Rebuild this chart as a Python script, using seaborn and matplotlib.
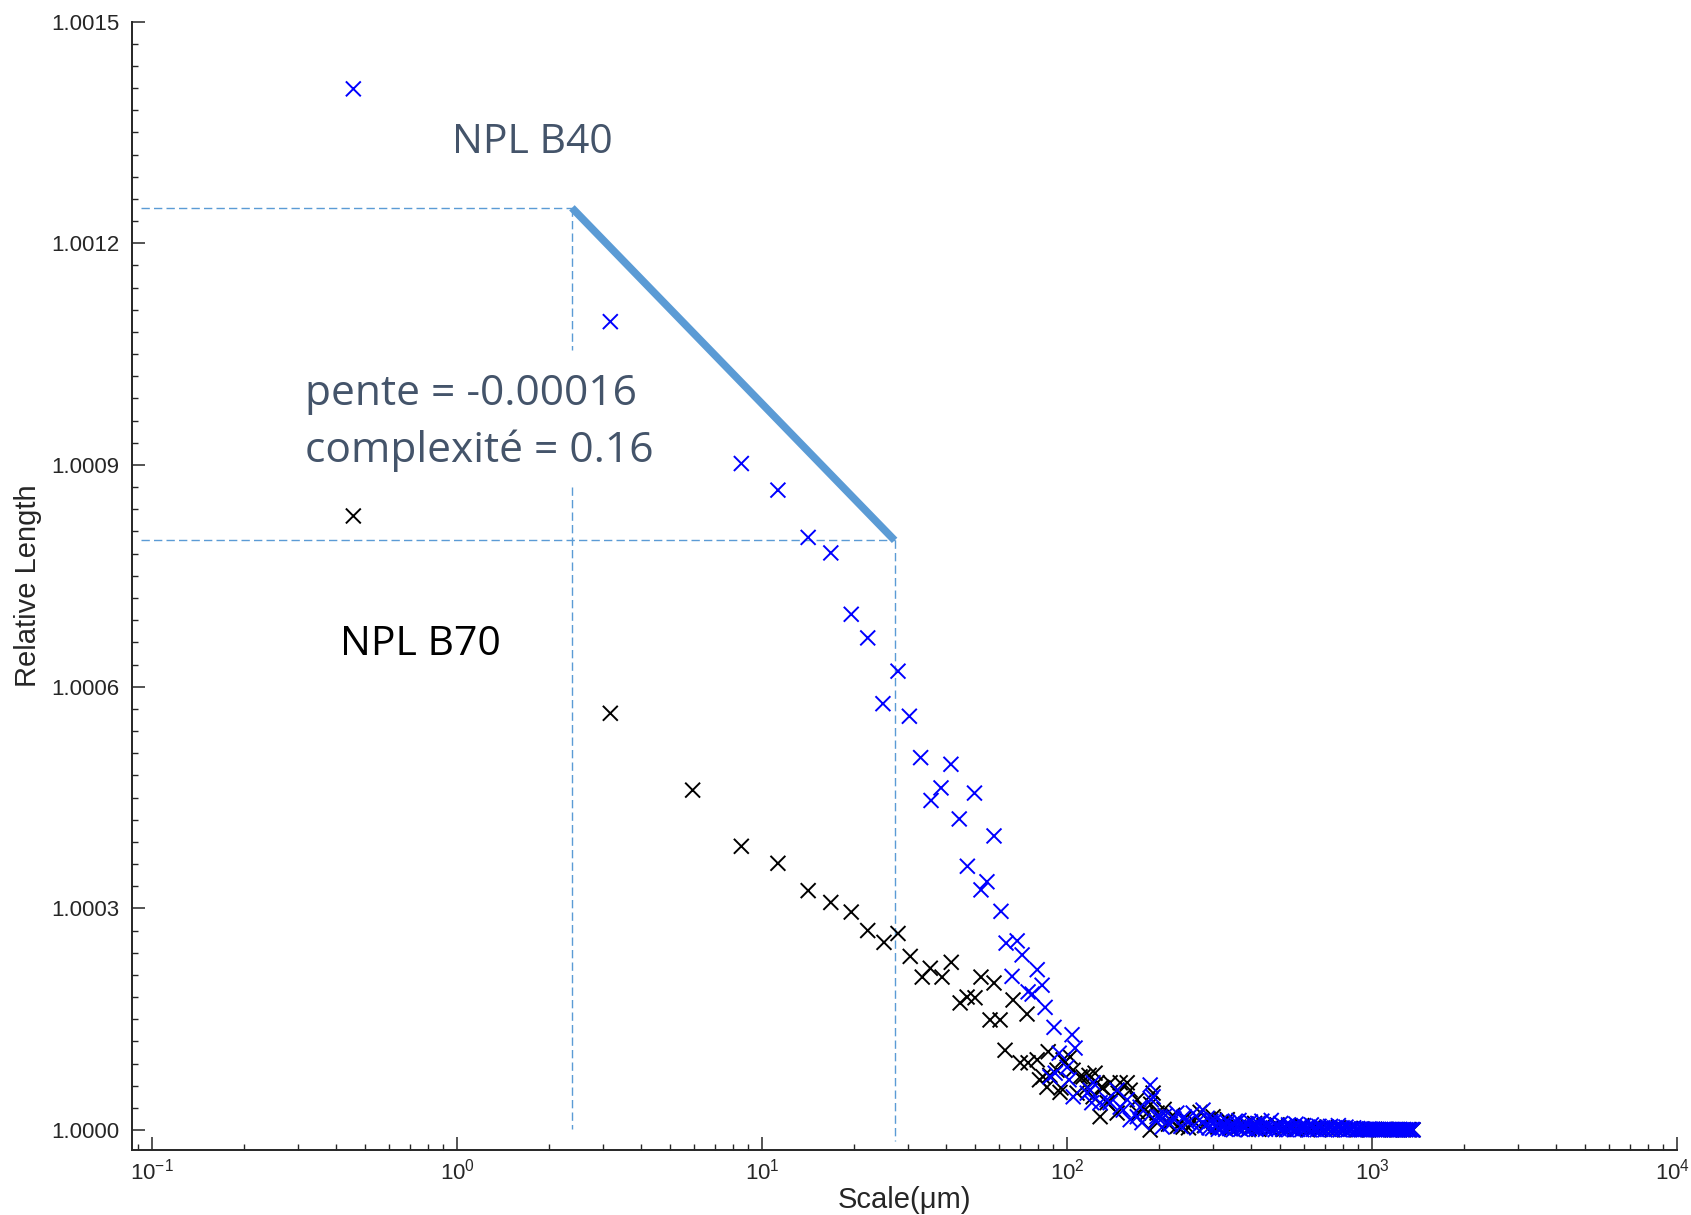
import matplotlib
matplotlib.use("Agg")
import matplotlib.pyplot as plt
import matplotlib.ticker as mticker
import matplotlib.transforms as mtransforms
import numpy as np
import pandas as pd
import seaborn as sns

# ---- measured relative length vs. analysis scale (length offsets in 1e-6) ----
b70_scale = [0.457, 3.18, 5.92, 8.55, 11.27, 14.16, 16.8, 19.6, 22.2, 25.1,
             27.9, 30.6, 33.5, 35.6, 38.9, 41.7, 44.6, 47.0, 49.9, 52.2,
             55.9, 57.6, 60.3, 62.6, 66.5, 70.2, 73.9, 74.5, 79.8, 81.2,
             83.4, 85.9, 86.7, 87.8, 92.7, 94.8, 95.5, 97.0, 98.4, 102.3,
             104.6, 107.8, 110.3, 112.8, 116.4, 118.0, 121.7, 123.5, 125.4, 128.3,
             129.5, 131.2, 135.2, 138.4, 145.9, 147.0, 149.3, 157.4, 161.0, 169.8,
             171.5, 177.6, 182, 187.2, 188, 191.4, 195, 197.2, 201.8, 208,
             215, 217.6, 222, 230, 240, 243, 250, 260, 273, 282,
             290, 301, 312, 320, 335, 345, 352, 365, 385, 395,
             412, 425, 442, 465, 488, 512, 536, 560, 588, 615,
             645, 675, 708, 740, 775, 810, 850, 890, 930, 975,
             1020, 1065, 1110, 1160, 1210, 1265, 1320, 1362]
b70_offset = [831, 564, 460, 384, 361, 324, 308, 295, 270, 254,
              266, 235, 207, 219, 207, 227, 172, 180, 179, 207,
              149, 199, 149, 108, 176, 91, 157, 91, 95, 68,
              72, 58, 106, 74, 81, 51, 57, 95, 92, 99,
              81, 50, 72, 72, 58, 74, 45, 77, 64, 18,
              58, 57, 37, 64, 23, 50, 64, 64, 54, 41,
              23, 31, 22, 0, 35, 50, 12, 23, 18, 28,
              8, 14, 20, 5, 4, 16, 3, 12, 24, 6,
              15, 18, 4, 10, 14, 2, 9, 4, 8, 2,
              9, 1, 6, 2, 7, 1, 5, 1, 6, 0.5,
              4, 1, 3, 0.5, 3, 0.5, 2, 0.5, 1, 0.3,
              1, 0.3, 0.8, 0.3, 0.5, 0.3, 0.5, 0.3]

b40_scale = [0.457, 3.18, 8.55, 11.27, 14.16, 16.8, 19.6, 22.2, 24.9, 27.9,
             30.4, 33.1, 35.8, 38.6, 41.6, 44.3, 47.1, 49.7, 52.2, 54.6,
             57.6, 60.7, 63.1, 66.0, 68.6, 71.2, 74.5, 76.8, 79.8, 82.8,
             84.7, 87.9, 90.6, 91.4, 94.2, 100.0, 101.5, 103.8, 104.7, 106.2,
             116.4, 118.9, 120.5, 121.7, 128.3, 135.2, 138.4, 145.9, 149.3, 152.7,
             157.4, 161.0, 169.8, 173.5, 176, 187.2, 188.5, 191.4, 196, 197.2,
             201.8, 205, 210, 218, 224, 229, 236, 242, 249, 259,
             266, 272, 279,
             284, 288, 292, 296, 300, 305, 309, 313, 318, 322,
             327, 331, 336, 341, 346, 351, 356, 361, 366, 371,
             377, 382, 388, 393, 399, 405, 410, 416, 422, 428,
             435, 441, 447, 454, 460, 467, 474, 481, 488, 495,
             502, 509, 516, 524, 532, 539, 547, 555, 563, 571,
             580, 588, 597, 605, 614, 623, 632, 642, 651, 661,
             670, 680, 690, 700, 710, 721, 731, 742, 753, 764,
             775, 786, 798, 809, 821, 833, 845, 858, 870, 883,
             896, 909, 922, 936, 950, 963, 978, 992, 1006, 1021,
             1036, 1051, 1067, 1082, 1098, 1114, 1131, 1147, 1164, 1181,
             1199, 1216, 1234, 1252, 1271, 1289, 1308, 1328, 1347, 1362]
b40_offset = [1409, 1094, 902, 866, 802, 781, 698, 666, 577, 621,
              560, 504, 446, 463, 495, 421, 357, 456, 325, 336,
              398, 296, 253, 208, 256, 237, 187, 184, 217, 196,
              166, 72, 139, 77, 104, 85, 68, 129, 45, 111,
              50, 54, 37, 64, 37, 41, 37, 54, 31, 27,
              41, 14, 18, 31, 10, 61, 41, 45, 12, 18,
              18, 4, 20, 8, 15, 23, 5, 18, 10, 23,
              3, 14, 27,
              6, 16, 3, 12, 2, 13, 6, 1, 11, 3,
              9, 1, 10, 2, 7, 0.5, 12, 3, 13, 1,
              6, 2, 8, 0.5, 11, 3, 7, 1, 9, 2,
              12, 4, 1, 8, 2, 13, 3, 0.5, 6, 2,
              9, 1, 5, 0.5, 7, 2, 4, 0.5, 8, 1,
              5, 0.5, 6, 2, 4, 0.3, 7, 1, 3, 0.5,
              5, 1, 3, 0.3, 4, 1, 5, 0.5, 3, 1,
              6, 0.3, 3, 1, 4, 0.3, 2, 1, 3, 0.3,
              2, 0.5, 1.5, 0.3, 1, 0.5, 1.5, 0.3, 1, 0.5,
              1, 0.3, 0.8, 0.3, 1, 0.5, 0.8, 0.3, 0.8, 0.3,
              0.6, 0.3, 0.8, 0.3, 0.6, 0.3, 0.5, 0.3, 0.5, 0.3]

# fitted segment on the B40 curve and its guide lines
seg_x = [2.38, 27.2]
seg_y = [1.001248, 1.000798]

TEXT_COL = "#44546A"
GUIDE_COL = "#5B9BD5"

df = pd.concat([
    pd.DataFrame({"Scale": b70_scale,
                  "Relative Length": 1 + np.array(b70_offset) * 1e-6,
                  "sample": "NPL B70"}),
    pd.DataFrame({"Scale": b40_scale,
                  "Relative Length": 1 + np.array(b40_offset) * 1e-6,
                  "sample": "NPL B40"}),
], ignore_index=True)

sns.set_style("ticks")
plt.rcParams["font.family"] = ["Liberation Sans", "DejaVu Sans"]
plt.rcParams["mathtext.fontset"] = "custom"
plt.rcParams["mathtext.rm"] = "Liberation Sans"
plt.rcParams["mathtext.it"] = "Liberation Sans:italic"
plt.rcParams["mathtext.bf"] = "Liberation Sans:bold"

fig = plt.figure(figsize=(16.91, 12.15), dpi=100)
ax = fig.add_axes([0.0781, 0.0535, 0.9137, 0.9287])

sns.scatterplot(data=df, x="Scale", y="Relative Length", hue="sample",
                palette={"NPL B70": "black", "NPL B40": "#0000FF"},
                marker="x", s=115, linewidth=1.4, legend=False, ax=ax, zorder=3)

ax.set_xscale("log")
ax.set_xlim(0.086, 1e4)
ax.set_ylim(0.999973, 1.0015)

# guide lines
dash = dict(color=GUIDE_COL, lw=1.0, dashes=(6, 3), zorder=2)
ax.plot([0.092, seg_x[0]], [seg_y[0], seg_y[0]], **dash)
ax.plot([0.092, seg_x[1]], [seg_y[1], seg_y[1]], **dash)
ax.plot([seg_x[0], seg_x[0]], [seg_y[0], 1.001056], **dash)
ax.plot([seg_x[0], seg_x[0]], [1.000870, 1.000002], **dash)
ax.plot([seg_x[1], seg_x[1]], [seg_y[1], 0.999985], **dash)
ax.plot(seg_x, seg_y, color=GUIDE_COL, lw=5.5, solid_capstyle="butt", zorder=2)

# annotations
tfont = dict(family=["Open Sans", "DejaVu Sans"])
ax.text(1.77, 1.001322, "NPL B40", color=TEXT_COL, ha="center", va="baseline",
        fontsize=29.5, **tfont)
ax.text(0.318, 1.000981, "pente = -0.00016", color=TEXT_COL, ha="left", va="baseline",
        fontsize=30.6, **tfont)
ax.text(0.318, 1.000904, "complexité = 0.16", color=TEXT_COL, ha="left", va="baseline",
        fontsize=30.6, **tfont)
ax.text(0.413, 1.000643, "NPL B70", color="black", ha="left", va="baseline",
        fontsize=29.5, **tfont)

# axes styling
sns.despine(ax=ax)
for sp in ("left", "bottom"):
    ax.spines[sp].set_linewidth(1.4)
ax.yaxis.set_major_locator(mticker.FixedLocator([1.0000, 1.0003, 1.0006, 1.0009, 1.0012, 1.0015]))
ax.yaxis.set_minor_locator(mticker.FixedLocator([1 + k * 0.00003 for k in range(0, 51)]))
ax.yaxis.set_major_formatter(mticker.FormatStrFormatter("%.4f"))
ax.xaxis.set_major_locator(mticker.FixedLocator([1e-1, 1e0, 1e1, 1e2, 1e3, 1e4]))
ax.xaxis.set_minor_locator(mticker.LogLocator(base=10, subs=np.arange(2, 10), numticks=20))
ax.xaxis.set_major_formatter(mticker.LogFormatterSciNotation())
ax.xaxis.set_minor_formatter(mticker.NullFormatter())
ax.tick_params(which="major", direction="in", length=9.4, width=1.1, labelsize=16)
ax.tick_params(which="minor", direction="in", length=4.5, width=1.0)
ax.tick_params(axis="y", which="major", pad=9)
ax.tick_params(axis="x", which="major", pad=6)

ax.set_xlabel("Scale(μm)", fontsize=21, labelpad=1)
ax.set_ylabel("Relative Length", fontsize=21, labelpad=7)

# keep the last decade label inside the canvas
fig.canvas.draw()
last = ax.xaxis.get_majorticklabels()[-1]
last.set_transform(last.get_transform() +
                   mtransforms.ScaledTranslation(-5 / 100, 0, fig.dpi_scale_trans))

fig.savefig("out.png", dpi=100)
